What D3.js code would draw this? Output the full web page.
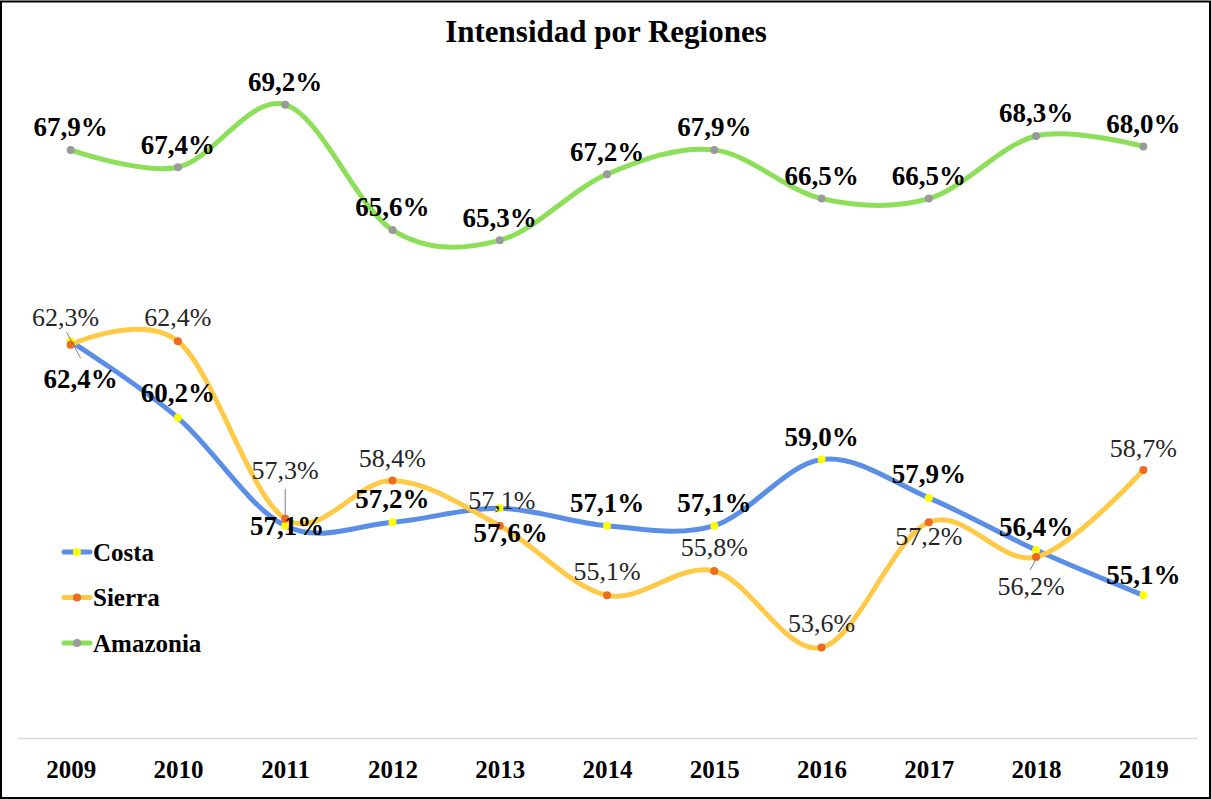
<!DOCTYPE html>
<html>
<head>
<meta charset="utf-8">
<script src="https://cdn.jsdelivr.net/npm/d3@7"></script>
<style>
  body { margin: 0; background: #fff; }
</style>
</head>
<body>
<div id="chart"></div>
<script>
const years = ["2009", "2010", "2011", "2012", "2013", "2014", "2015", "2016", "2017", "2018", "2019"];
const costa = [62.4, 60.2, 57.1, 57.2, 57.6, 57.1, 57.1, 59.0, 57.9, 56.4, 55.1];
const sierra = [62.3, 62.4, 57.3, 58.4, 57.1, 55.1, 55.8, 53.6, 57.2, 56.2, 58.7];
const amazonia = [67.9, 67.4, 69.2, 65.6, 65.3, 67.2, 67.9, 66.5, 66.5, 68.3, 68.0];

// label placement (offset of label centre from its point, px)
const costaLabelDx = [10, 0, 2, 0, 11, 0, 0, 0, 0, 0, 0];
const costaLabelDy = [37, -25, 0, -24, 24, -23, -23, -23, -24, -24, -21];
const sierraLabelDx = [-5, 0, 0, 0, 2, 0, 0, 0, 0, -5, 0];
const sierraLabelDy = [-28, -24, -49, -23, -26, -24, -24, -25, 14, 29, -22];

const width = 1211, height = 799;
const serif = "'Liberation Serif', 'Times New Roman', serif";

const svg = d3.select("#chart")
  .append("svg")
    .attr("width", width)
    .attr("height", height)
    .style("font-family", serif);

// outer frame
svg.append("rect")
  .attr("x", 1).attr("y", 1.5)
  .attr("width", width - 2).attr("height", height - 2.5)
  .attr("fill", "#fff")
  .attr("stroke", "#000")
  .attr("stroke-width", 2);

const x = d3.scalePoint()
  .domain(years)
  .range([17, 1197])
  .padding(0.5);

const y = d3.scaleLinear()
  .domain([51, 71])
  .range([738, 42]);

// X axis
const xAxis = svg.append("g")
  .attr("transform", "translate(0,738)")
  .call(d3.axisBottom(x).tickSize(0).tickPadding(22));
xAxis.attr("font-family", null);
xAxis.select(".domain").attr("stroke", "#d9d9d9").attr("stroke-width", 1.5);
xAxis.selectAll("text")
  .style("font-family", serif)
  .style("font-size", "25px")
  .style("font-weight", "bold")
  .attr("fill", "#000");

// title
svg.append("text")
  .attr("x", 606)
  .attr("y", 42)
  .style("font-family", serif)
  .style("text-anchor", "middle")
  .style("font-size", "31px")
  .style("font-weight", "bold")
  .text("Intensidad por Regiones");

const series = [
  { name: "Costa", values: costa, line: "#5b8fe6", marker: "#ffff00", bold: true, dx: costaLabelDx, dy: costaLabelDy },
  { name: "Sierra", values: sierra, line: "#ffca48", marker: "#ee6a1f", bold: false, dx: sierraLabelDx, dy: sierraLabelDy },
  { name: "Amazonia", values: amazonia, line: "#8ddf5a", marker: "#9a9a9a", bold: true, dx: null, dy: null }
];

const line = d3.line()
  .x((d, i) => x(years[i]))
  .y(d => y(d))
  .curve(d3.curveCatmullRom.alpha(0));

const fmt = v => v.toFixed(1).replace(".", ",") + "%";

// leader lines
const leaders = [
  { s: 0, i: 0, x1: -4, y1: -9, x2: 10, y2: 17 },
  { s: 1, i: 2, x1: 0, y1: -30, x2: 0, y2: -2 },
  { s: 1, i: 9, x1: 0, y1: 2, x2: -6, y2: 13 }
];

series.forEach(s => {
  svg.append("path")
    .datum(s.values)
    .attr("fill", "none")
    .attr("stroke", s.line)
    .attr("stroke-width", 5)
    .attr("stroke-linecap", "round")
    .attr("d", line);
});

series.forEach(s => {
  svg.selectAll(null)
    .data(s.values)
    .enter()
    .append("circle")
      .attr("cx", (d, i) => x(years[i]))
      .attr("cy", d => y(d))
      .attr("r", 4)
      .attr("fill", s.marker);
});

leaders.forEach(l => {
  const s = series[l.s];
  const px = x(years[l.i]), py = y(s.values[l.i]);
  svg.append("line")
    .attr("x1", px + l.x1).attr("y1", py + l.y1)
    .attr("x2", px + l.x2).attr("y2", py + l.y2)
    .attr("stroke", "#7f7f7f")
    .attr("stroke-width", 1);
});

// data labels
series.forEach(s => {
  svg.selectAll(null)
    .data(s.values)
    .enter()
    .append("text")
      .attr("x", (d, i) => x(years[i]) + (s.dx ? s.dx[i] : 0))
      .attr("y", (d, i) => y(d) + (s.dy ? s.dy[i] : -23))
      .attr("dy", "0.35em")
      .style("font-family", serif)
      .style("text-anchor", "middle")
      .style("font-size", s.bold ? "27px" : "26px")
      .style("font-weight", s.bold ? "bold" : "normal")
      .style("fill", s.bold ? "#000" : "#262626")
      .text(d => fmt(d));
});

// legend
const legend = svg.append("g");
series.forEach((s, i) => {
  const ly = 552 + i * 45.5;
  legend.append("line")
    .attr("x1", 64).attr("x2", 90)
    .attr("y1", ly).attr("y2", ly)
    .attr("stroke", s.line)
    .attr("stroke-width", 5)
    .attr("stroke-linecap", "round");
  legend.append("circle")
    .attr("cx", 77).attr("cy", ly).attr("r", 4)
    .attr("fill", s.marker);
  legend.append("text")
    .attr("x", 93).attr("y", ly)
    .attr("dy", "0.35em")
    .style("font-family", serif)
    .style("font-size", "25px")
    .style("font-weight", "bold")
    .text(s.name);
});
</script>
</body>
</html>
